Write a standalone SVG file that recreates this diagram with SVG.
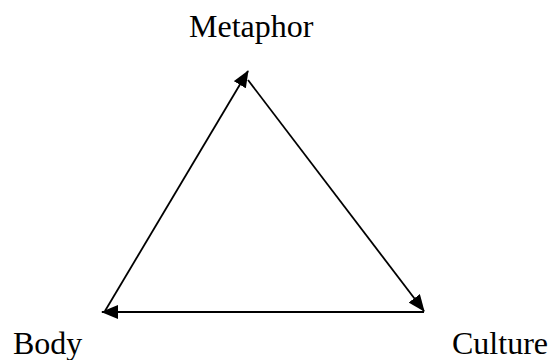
<svg xmlns="http://www.w3.org/2000/svg" width="552" height="360" viewBox="0 0 552 360">
<style>
text{font-family:"Liberation Serif","Times New Roman",serif;font-size:32px;fill:#000}
.c{stroke:#000;stroke-width:1.8;fill:none;marker-end:url(#ah)}
</style>
<defs>
<marker id="ah" markerUnits="userSpaceOnUse" markerWidth="17" markerHeight="14" refX="16" refY="7" orient="auto" viewBox="0 0 17 14">
<path d="M0,0 L17,7 L0,14 Z" fill="#000"/>
</marker>
</defs>
<rect width="552" height="360" fill="#fff"/>
<g id="connectors">
<line class="c" x1="105" y1="311" x2="248" y2="71"/>
<line class="c" x1="248" y1="80" x2="424" y2="311"/>
<line class="c" x1="424" y1="312" x2="102" y2="312"/>
</g>
<g id="metaphor"><text x="189" y="37">Metaphor</text></g>
<g id="body"><text x="13" y="354">Body</text></g>
<g id="culture"><text x="452" y="354">Culture</text></g>
</svg>
